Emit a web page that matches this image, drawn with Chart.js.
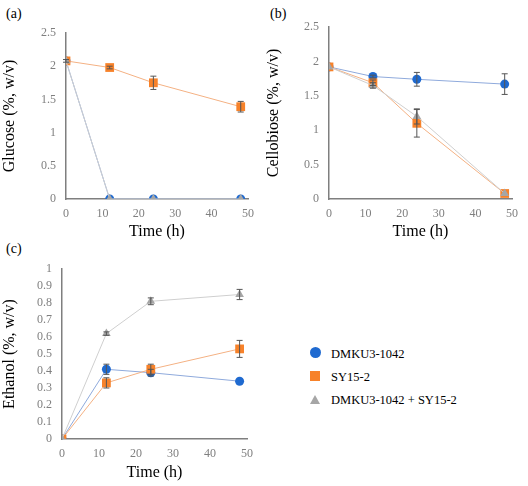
<!DOCTYPE html>
<html>
<head>
<meta charset="utf-8">
<script src="https://cdn.jsdelivr.net/npm/chart.js@4"></script>
<style>
  body { margin: 0; background: #fff; width: 528px; height: 486px; position: relative; overflow: hidden; font-family: "Liberation Serif", "Times New Roman", "DejaVu Serif", serif; }
  .panel { position: absolute; }
  .tag { position: absolute; font-size: 14px; color: #000; }
  #legend { position: absolute; left: 310px; top: 343px; font-size: 12.5px; color: #000; }
  #legend div { height: 23px; display: flex; align-items: center; }
  #legend span.m { display: inline-block; width: 12px; margin-right: 9px; }
</style>
</head>
<body>
<div class="tag" style="left:6px;top:6px">(a)</div>
<div class="tag" style="left:270px;top:6px">(b)</div>
<div class="tag" style="left:6px;top:241px">(c)</div>
<div class="panel" style="left:0;top:0"><canvas id="chartA" width="264" height="245"></canvas></div>
<div class="panel" style="left:264px;top:0"><canvas id="chartB" width="264" height="245"></canvas></div>
<div class="panel" style="left:0;top:240px"><canvas id="chartC" width="264" height="246"></canvas></div>
<div id="legend"></div>
<script>
const times = [0, 12, 24, 48]
const seriesNames = ['DMKU3-1042', 'SY15-2', 'DMKU3-1042 + SY15-2']

// (a) glucose
const glucoseDmku = [2.08, 0, 0, 0]
const glucoseSy = [2.08, 1.98, 1.75, 1.39]
const glucoseMix = [2.08, 0, 0, 0]
const glucoseDmkuErr = [0, 0, 0, 0]
const glucoseSyErr = [0.02, 0.02, 0.1, 0.08]
const glucoseMixErr = [0, 0, 0, 0]

// (b) cellobiose
const cellDmku = [1.92, 1.78, 1.74, 1.67]
const cellSy = [1.92, 1.69, 1.1, 0.08]
const cellMix = [1.92, 1.65, 1.2, 0.08]
const cellDmkuErr = [0, 0.02, 0.1, 0.15]
const cellSyErr = [0, 0.04, 0.2, 0]
const cellMixErr = [0, 0.04, 0.11, 0]

// (c) ethanol
const ethDmku = [0, 0.41, 0.39, 0.34]
const ethSy = [0, 0.33, 0.41, 0.53]
const ethMix = [0, 0.62, 0.81, 0.85]
const ethDmkuErr = [0, 0.03, 0.02, 0]
const ethSyErr = [0, 0.03, 0.03, 0.05]
const ethMixErr = [0, 0.01, 0.02, 0.03]

const xTicks = [0, 10, 20, 30, 40, 50]

const serif = '"Liberation Serif", "Times New Roman", "DejaVu Serif", serif'
const markerColors = ['#1f6ad0', '#f7822a', '#a6a6a6']
const lineColors = ['#8faadc', '#f4b183', '#cfcfcf']
const markerStyles = ['circle', 'rect', 'triangle']
const markerSizes = [4.5, 6.2, 5]

function pts(vals) {
  return times.map((t, i) => ({ x: t, y: vals[i] }))
}

const errorBars = {
  id: 'errorBars',
  afterDatasetsDraw(chart) {
    const ctx = chart.ctx
    const xs = chart.scales.x, ys = chart.scales.y
    ctx.save()
    ctx.strokeStyle = '#555'
    ctx.lineWidth = 1
    chart.data.datasets.forEach(ds => {
      ds.err.forEach((e, i) => {
        if (!e) return
        const px = xs.getPixelForValue(times[i])
        const top = ys.getPixelForValue(ds.data[i].y + e)
        const bot = ys.getPixelForValue(ds.data[i].y - e)
        ctx.beginPath()
        ctx.moveTo(px, top); ctx.lineTo(px, bot)
        ctx.moveTo(px - 3, top); ctx.lineTo(px + 3, top)
        ctx.moveTo(px - 3, bot); ctx.lineTo(px + 3, bot)
        ctx.stroke()
      })
    })
    ctx.restore()
  }
}

function makeChart(id, series, errs, yMax, yStep, yTitle, yWidth, topPad, xHeight, rightPad) {
  const datasets = series.map((vals, k) => ({
    label: seriesNames[k],
    data: pts(vals),
    err: errs[k],
    borderColor: lineColors[k],
    borderWidth: 1,
    backgroundColor: markerColors[k],
    pointBackgroundColor: markerColors[k],
    pointBorderColor: markerColors[k],
    pointStyle: markerStyles[k],
    pointRadius: markerSizes[k],
    pointBorderWidth: 0,
    tension: 0,
    order: -k
  }))
  return new Chart(document.getElementById(id), {
    type: 'line',
    data: { datasets: datasets },
    options: {
      responsive: false,
      animation: false,
      layout: { padding: { top: topPad, right: rightPad, left: 0, bottom: 0 } },
      plugins: { legend: { display: false }, tooltip: { enabled: false } },
      scales: {
        x: {
          type: 'linear', min: 0, max: 50,
          afterBuildTicks: s => { s.ticks = xTicks.map(v => ({ value: v })) },
          afterFit: s => { s.height = xHeight },
          grid: { display: false, drawTicks: false },
          border: { color: '#7f7f7f', width: 1.5 },
          ticks: { color: '#7f7f7f', padding: 8, autoSkip: false, maxRotation: 0, font: { family: serif, size: 12 } },
          title: { display: true, text: 'Time (h)', color: '#000', padding: { top: 2 }, font: { family: serif, size: 16, weight: 'normal' } }
        },
        y: {
          min: 0, max: yMax,
          afterFit: s => { s.width = yWidth },
          grid: { display: false, drawTicks: false },
          border: { color: '#7f7f7f', width: 1.5 },
          ticks: {
            stepSize: yStep, color: '#7f7f7f', padding: 10, autoSkip: false,
            font: { family: serif, size: 12 },
            callback: v => String(Math.round(v * 10) / 10)
          },
          title: { display: true, text: yTitle, color: '#000', padding: { top: 0, bottom: 8 }, font: { family: serif, size: 16, weight: 'normal' } }
        }
      }
    },
    plugins: [errorBars]
  })
}

makeChart('chartA', [glucoseDmku, glucoseSy, glucoseMix], [glucoseDmkuErr, glucoseSyErr, glucoseMixErr],
  2.5, 0.5, 'Glucose (%, w/v)', 66, 33, 46, 16)
makeChart('chartB', [cellDmku, cellSy, cellMix], [cellDmkuErr, cellSyErr, cellMixErr],
  2.5, 0.5, 'Cellobiose (%, w/v)', 65, 27, 46, 16)
makeChart('chartC', [ethDmku, ethSy, ethMix], [ethDmkuErr, ethSyErr, ethMixErr],
  1, 0.1, 'Ethanol (%, w/v)', 62, 29, 47, 17)

// legend
const legend = document.getElementById('legend')
const markerHtml = [
  '<span class="m"><span style="display:inline-block;width:11px;height:11px;border-radius:50%;background:' + markerColors[0] + '"></span></span>',
  '<span class="m"><span style="display:inline-block;width:10px;height:10px;background:' + markerColors[1] + '"></span></span>',
  '<span class="m"><span style="display:inline-block;width:0;height:0;border-left:5px solid transparent;border-right:5px solid transparent;border-bottom:9px solid ' + markerColors[2] + '"></span></span>'
]
seriesNames.forEach((n, k) => {
  const row = document.createElement('div')
  row.innerHTML = markerHtml[k]
  const t = document.createElement('span')
  t.textContent = n
  row.appendChild(t)
  legend.appendChild(row)
})
</script>
</body>
</html>
